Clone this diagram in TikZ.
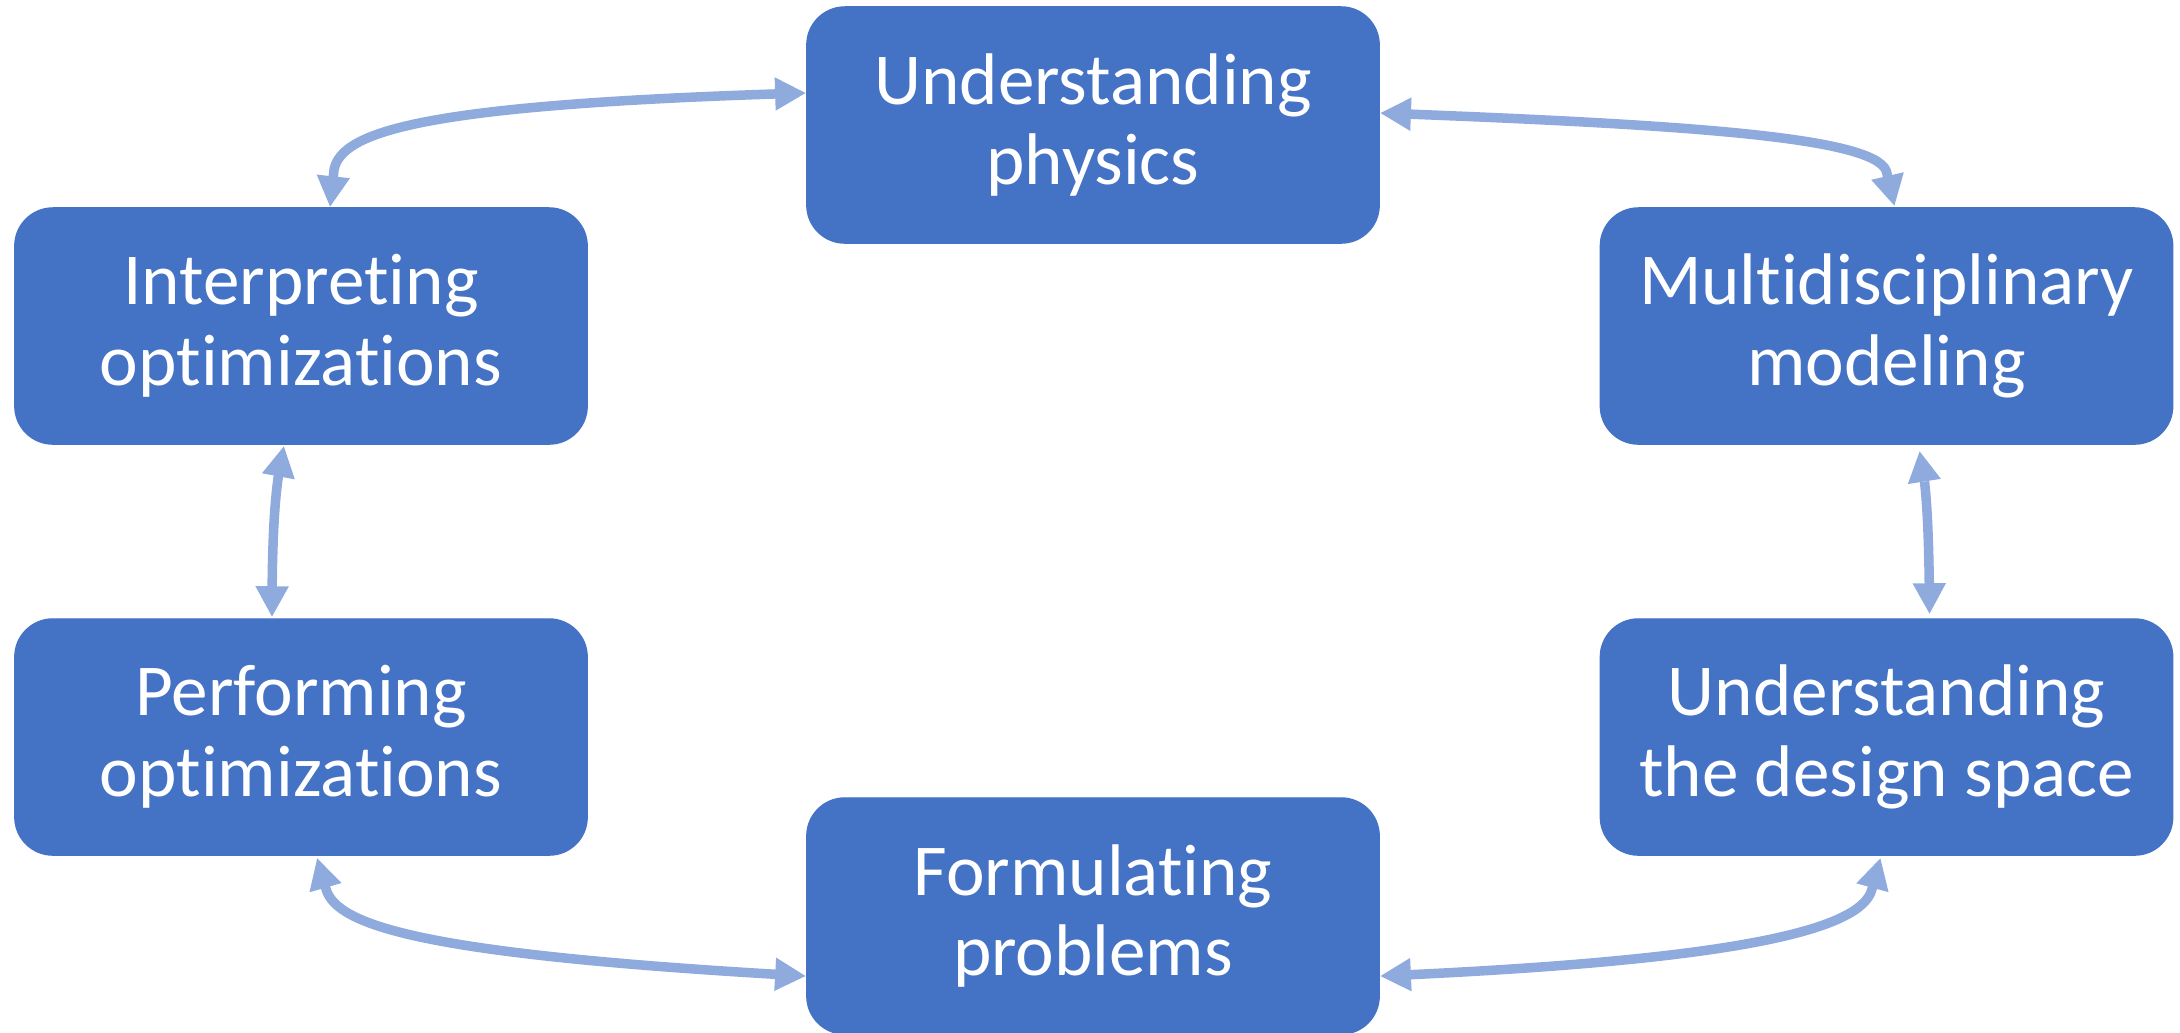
\documentclass[tikz,border=0pt]{standalone}
\usepackage{fontspec}
\setmainfont{Carlito}[RawFeature={-liga;-dlig;-clig;-calt}]
\usetikzlibrary{arrows.meta,bending}
\definecolor{boxblue}{HTML}{4472C4}
\definecolor{arrowblue}{HTML}{8FAADC}
\newcommand{\tnoi}{t\kern0pt i}
\begin{document}
\begin{tikzpicture}[x=0.01cm,y=-0.01cm,
  stagebox/.style={fill=boxblue, draw=boxblue, line width=0.4pt, rounded corners=0.38cm,
    minimum width=5.72cm, minimum height=2.36cm, inner sep=0pt, align=center,
    text=white, font=\fontsize{20.8pt}{23pt}\selectfont},
  link/.style={draw=arrowblue, line width=0.095cm, line join=round,
    {Triangle[length=0.31cm,width=0.31cm,flex]}-{Triangle[length=0.31cm,width=0.31cm,flex]}}]
\useasboundingbox (0,0) rectangle (2180,1032);
\node[stagebox] (up)  at (1093,125)   {Understanding\\physics};
\node[stagebox] (io)  at (301,326)    {Interpre\tnoi ng\\op\tnoi miza\tnoi ons};
\node[stagebox] (mm)  at (1886.5,326) {Multidisciplinary\\modeling};
\node[stagebox] (po)  at (301,737)    {Performing\\op\tnoi miza\tnoi ons};
\node[stagebox] (uds) at (1886.5,737) {Understanding\\the design space};
\node[stagebox] (fp)  at (1093,916)   {Formula\tnoi ng\\problems};
% connectors
\draw[link] ([xshift=0.29cm]io.north) -- (334,170) .. controls (341,130) and (430,104) .. ([yshift=0.32cm]up.west);
\draw[link] ([yshift=0.12cm]up.east) .. controls (1700,125) and (1884,138) .. (1887,174) -- ([xshift=0.08cm,yshift=0.01cm]mm.north);
\draw[link] ([xshift=-0.29cm,yshift=0.01cm]po.north) .. controls (272,520) and (276,480) .. ([xshift=-0.17cm,yshift=-0.01cm]io.south);
\draw[link] ([xshift=0.43cm,yshift=0.04cm]uds.north) .. controls (1929,520) and (1926,480) .. ([xshift=0.33cm,yshift=-0.06cm]mm.south);
\draw[link] ([xshift=0.16cm,yshift=-0.02cm]po.south) -- (326,889) .. controls (337,927) and (430,955) .. ([yshift=-0.60cm]fp.west);
\draw[link] ([xshift=-0.06cm,yshift=-0.02cm]uds.south) -- (1872,889) .. controls (1862,928) and (1750,960) .. ([yshift=-0.60cm]fp.east);
\end{tikzpicture}
\end{document}
